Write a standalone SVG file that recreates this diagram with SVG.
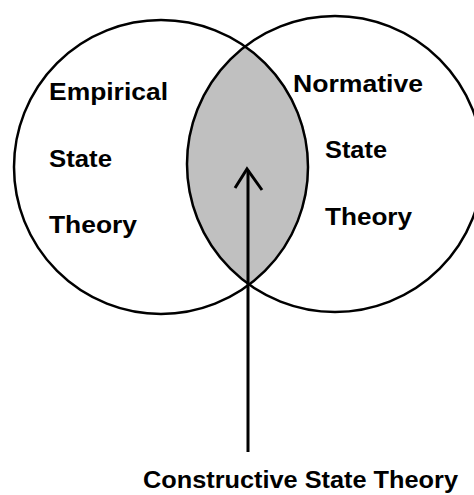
<svg xmlns="http://www.w3.org/2000/svg" width="474" height="495" viewBox="0 0 474 495">
<style>
.c{fill:none;stroke:#000;stroke-width:2.5}
.t{font-family:"Liberation Sans",Arial,sans-serif;font-weight:bold;font-size:23px;fill:#000}
.a{fill:none;stroke:#000;stroke-width:3;stroke-linecap:butt;stroke-linejoin:miter}
</style>
<rect width="474" height="495" fill="#fff"/>
<g id="intersection">
<path d="M246,46 A147,147 0 0 1 249,285 A148,148 0 0 1 246,46 Z" fill="#c0c0c0" stroke="none"/>
</g>
<g id="empirical">
<circle class="c" cx="161" cy="167" r="147"/>
<text class="t" x="49" y="100" textLength="119" lengthAdjust="spacingAndGlyphs">Empirical</text>
<text class="t" x="49" y="167" textLength="63" lengthAdjust="spacingAndGlyphs">State</text>
<text class="t" x="49" y="233" textLength="88" lengthAdjust="spacingAndGlyphs">Theory</text>
</g>
<g id="normative">
<circle class="c" cx="335" cy="164" r="148"/>
<text class="t" x="293" y="92" textLength="130" lengthAdjust="spacingAndGlyphs">Normative</text>
<text class="t" x="325" y="158" textLength="62" lengthAdjust="spacingAndGlyphs">State</text>
<text class="t" x="325" y="225" textLength="87" lengthAdjust="spacingAndGlyphs">Theory</text>
</g>
<g id="constructive">
<text class="t" x="143" y="488" textLength="315" lengthAdjust="spacingAndGlyphs">Constructive State Theory</text>
</g>
<g id="connectors">
<line class="a" x1="248" y1="452" x2="248" y2="170"/>
<polyline class="a" points="235,188 247,169 262,190"/>
</g>
</svg>
